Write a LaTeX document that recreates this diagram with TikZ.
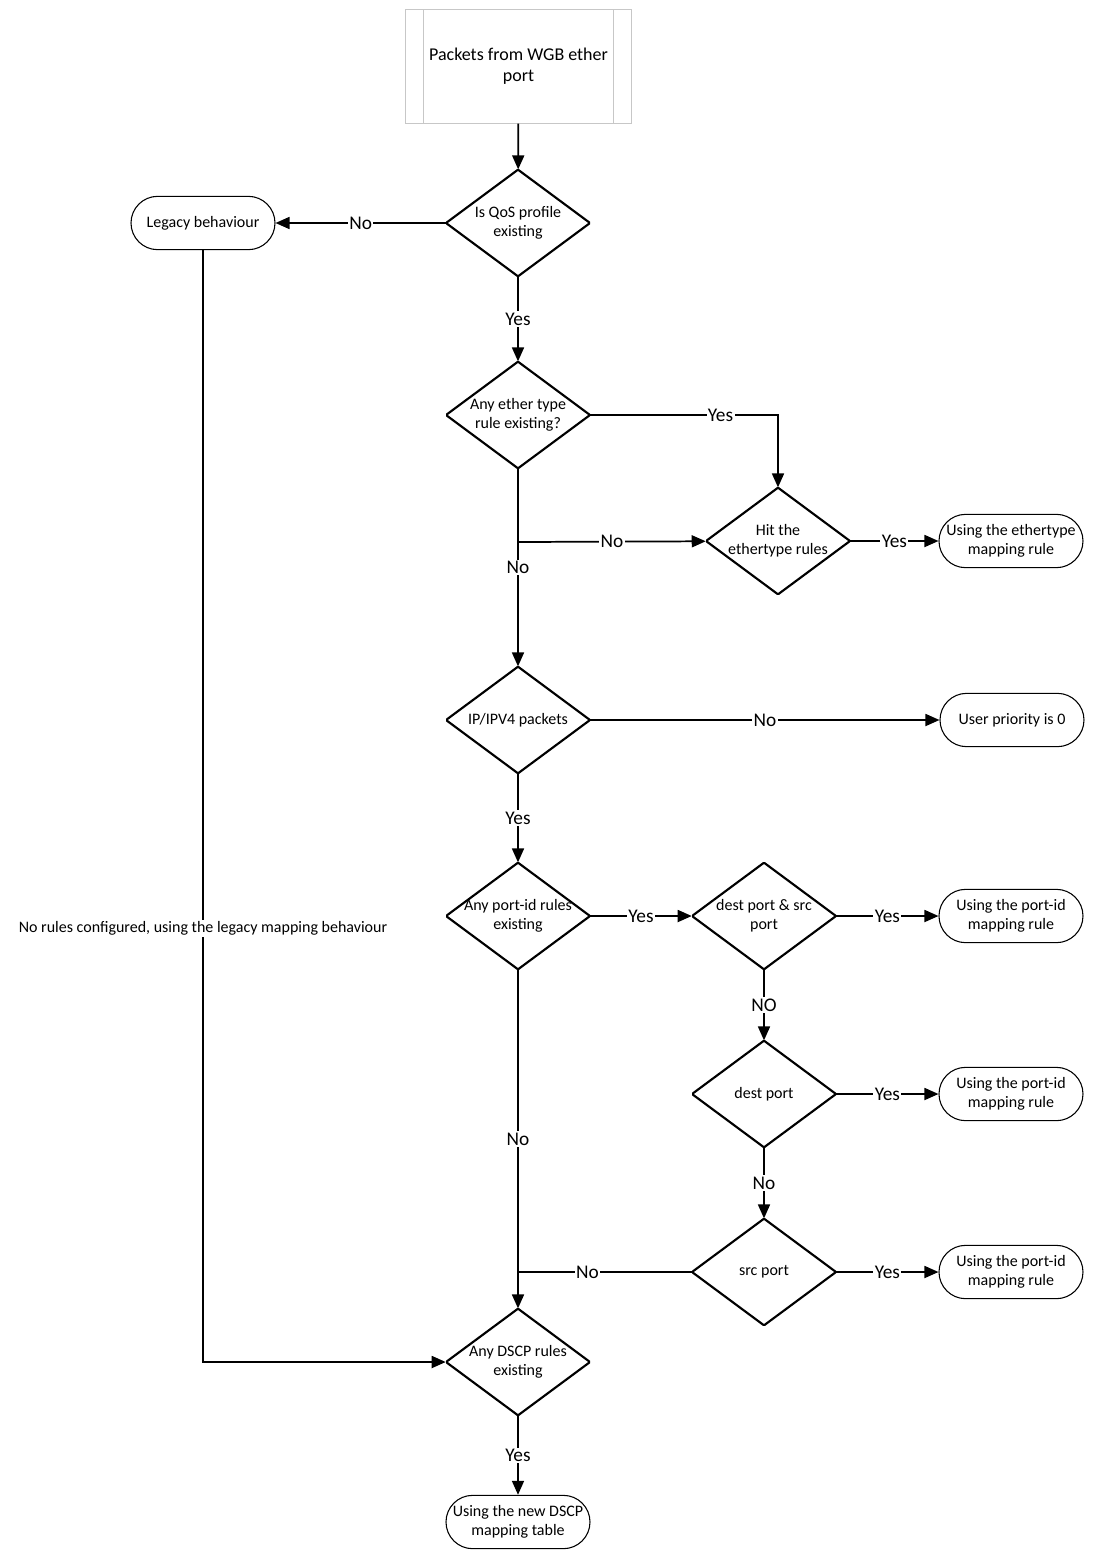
\documentclass[tikz,border=0pt]{standalone}
\usepackage{fontspec}
\setmainfont{Carlito}
\usetikzlibrary{arrows.meta}

\tikzset{
  process/.style={minimum width=169pt, minimum height=85pt, inner sep=0pt, align=center,
    font=\fontsize{13.5}{15.75}\selectfont, draw=black!22, line width=0.8pt,
    path picture={
      \draw[black!22, line width=0.8pt]
        ([xshift=13.5pt]path picture bounding box.north west) -- ([xshift=13.5pt]path picture bounding box.south west)
        ([xshift=-13.5pt]path picture bounding box.north east) -- ([xshift=-13.5pt]path picture bounding box.south east);
    }},
  decision/.style={minimum width=108pt, minimum height=80pt, inner sep=0pt, align=center,
    font=\fontsize{12}{14.25}\selectfont,
    path picture={
      \draw[line width=1.6pt]
        (path picture bounding box.north) -- (path picture bounding box.east) --
        (path picture bounding box.south) -- (path picture bounding box.west) -- cycle;
    }},
  terminal/.style={draw, line width=0.8pt, rounded corners=20pt, minimum width=108pt,
    minimum height=40pt, inner sep=0pt, align=center, font=\fontsize{12}{14.25}\selectfont},
  flow/.style={-{Triangle[length=10.5pt,width=9pt]}, line width=1.3pt},
  lbl/.style={fill=white, inner sep=1pt, font=\fontsize{14.5}{17}\selectfont}
}

\begin{document}
\begin{tikzpicture}[x=0.75pt, y=-0.75pt]
  \useasboundingbox (0,0) rectangle (1098,1561);

  \node[process]  (Start)  at (518.5,66.5) {Packets from WGB ether\\port};
  \node[decision] (D1)     at (518,223)  {Is QoS profile\\existing};
  \node[terminal] (Legacy) at (203,223)  {Legacy behaviour};
  \node[decision] (D2)     at (518,415)  {Any ether type\\rule existing?};
  \node[decision] (Hit)    at (778,541)  {Hit the\\ethertype rules};
  \node[terminal] (E1)     at (1011,541) {Using the ethertype\\mapping rule};
  \node[decision] (D3)     at (518,720)  {IP/IPV4 packets};
  \node[terminal] (E2)     at (1012,720) {User priority is 0};
  \node[decision] (D4)     at (518,916)  {Any port-id rules\\existing};
  \node[decision] (D5)     at (764,916)  {dest port \& src\\port};
  \node[terminal] (E3)     at (1011,916) {Using the port-id\\mapping rule};
  \node[decision] (D6)     at (764,1094) {dest port};
  \node[terminal] (E4)     at (1011,1094) {Using the port-id\\mapping rule};
  \node[decision] (D7)     at (764,1272) {src port};
  \node[terminal] (E5)     at (1011,1272) {Using the port-id\\mapping rule};
  \node[decision] (D8)     at (518,1362) {Any DSCP rules\\existing};
  \node[terminal] (E6)     at (518,1522) {Using the new DSCP\\mapping table};

  \coordinate (J1) at (518,542);
  \coordinate (J2) at (518,1272);

  \draw[flow] (Start) -- (D1);
  \draw[flow] (D1) -- node[lbl] {No} (Legacy);
  \draw[flow] (D1) -- node[lbl] {Yes} (D2);
  \draw[flow] (D2) -| node[lbl, pos=0.347] {Yes} (Hit);
  \draw[flow] (D2) -- node[lbl] {No} (D3);
  \draw[flow] (J1) -- node[lbl] {No} (Hit);
  \draw[flow] (Hit) -- node[lbl] {Yes} (E1);
  \draw[flow] (D3) -- node[lbl] {No} (E2);
  \draw[flow] (D3) -- node[lbl] {Yes} (D4);
  \draw[flow] (D4) -- node[lbl] {Yes} (D5);
  \draw[flow] (D5) -- node[lbl] {Yes} (E3);
  \draw[flow] (D5) -- node[lbl] {NO} (D6);
  \draw[flow] (D6) -- node[lbl] {Yes} (E4);
  \draw[flow] (D6) -- node[lbl] {No} (D7);
  \draw[flow] (D7) -- node[lbl] {Yes} (E5);
  \draw[line width=1.3pt] (D7) -- node[lbl, pos=0.6] {No} (J2);
  \draw[flow] (D4) -- node[lbl] {No} (D8);
  \draw[flow] (D8) -- node[lbl] {Yes} (E6);
  \draw[flow] (Legacy) |- node[lbl, pos=0.305, font=\fontsize{12}{14}\selectfont]
    {No rules configured, using the legacy mapping behaviour} (D8);
\end{tikzpicture}
\end{document}
